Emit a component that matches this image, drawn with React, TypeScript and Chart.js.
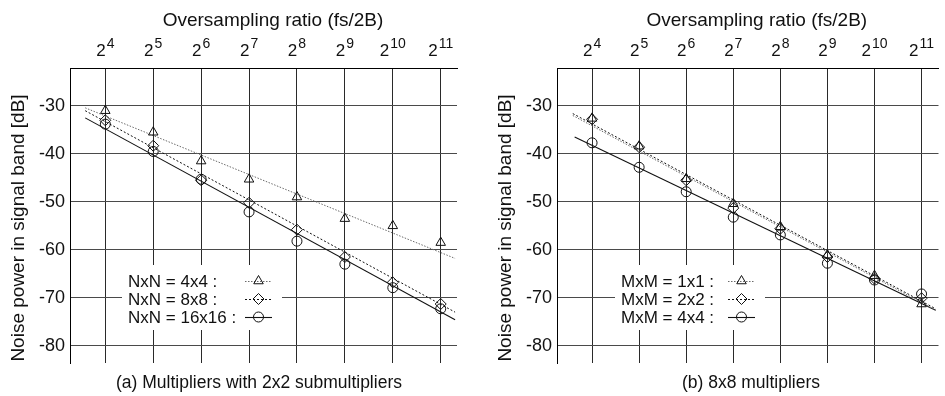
import React, { useEffect, useRef } from 'react';
import { Chart, registerables } from 'chart.js';
import { drawPoint } from 'chart.js/helpers';

Chart.register(...registerables);

// ---------- data ----------
const exponents = [4, 5, 6, 7, 8, 9, 10, 11];
const yTickValues = [-80, -70, -60, -50, -40, -30];

// (a) Multipliers with 2x2 submultipliers
const nxn4x4 = [-31.0, -35.5, -41.5, -45.3, -49.0, -53.5, -55.0, -58.5];
const nxn8x8 = [-33.0, -38.3, -45.5, -50.2, -55.8, -61.5, -66.8, -71.3];
const nxn16x16 = [-33.8, -39.5, -45.3, -52.1, -58.2, -63.0, -67.9, -72.3];
const fitXLeft = [3.58, 11.3];
const fitNxN4x4 = [-30.4, -61.8];
const fitNxN8x8 = [-31.0, -73.0];
const fitNxN16x16 = [-32.5, -74.6];

// (b) 8x8 multipliers
const mxm1x1 = [-32.6, -38.4, -45.2, -50.4, -55.2, -61.1, -65.4, -71.3];
const mxm2x2 = [-32.8, -38.6, -45.5, -51.3, -55.6, -61.5, -66.0, -70.1];
const mxm4x4 = [-37.7, -42.8, -47.9, -53.2, -56.9, -62.8, -66.3, -69.2];
const fitXRight = [3.59, 11.3];
const fitXRightSolid = [3.63, 11.3];
const fitMxM1x1 = [-32.0, -72.6];
const fitMxM2x2 = [-31.6, -72.3];
const fitMxM4x4 = [-36.5, -72.6];

const xTitle = 'Oversampling ratio (fs/2B)';
const yTitle = 'Noise power in signal band [dB]';
const captionA = '(a) Multipliers with 2x2 submultipliers';
const captionB = '(b) 8x8 multipliers';
const labelsA = ['NxN = 4x4 :', 'NxN = 8x8 :', 'NxN = 16x16 :'];
const labelsB = ['MxM = 1x1 :', 'MxM = 2x2 :', 'MxM = 4x4 :'];

const FONT = '"Liberation Sans", Arial, Helvetica, sans-serif';

type Series = {
  label: string;
  values: number[];
  fitX: number[];
  fitY: number[];
  marker: string;
  radius: number;
  color: string;
  dash: number[];
  width: number;
};

type Panel = {
  width: number;
  xMin: number;
  xMax: number;
  axisWidth: number;
  rightPad: number;
  caption: string;
  captionX: number;
  legendBox: [number, number, number, number];
  legendTextX: number;
  sampleX: [number, number];
  series: Series[];
};

const styles = [
  { marker: 'triangle', radius: 5.5, color: '#6a6a6a', dash: [1.5, 1.5], width: 1 },
  { marker: 'rectRot', radius: 5.5, color: '#111', dash: [2, 2], width: 1 },
  { marker: 'circle', radius: 5, color: '#111', dash: [], width: 1.1 },
];

const panelA: Panel = {
  width: 470,
  xMin: 3.263,
  xMax: 11.34,
  axisWidth: 70,
  rightPad: 13,
  caption: captionA,
  captionX: 259,
  legendBox: [122, 265, 160, 65],
  legendTextX: 128,
  sampleX: [245, 272],
  series: [
    { label: labelsA[0], values: nxn4x4, fitX: fitXLeft, fitY: fitNxN4x4, ...styles[0] },
    { label: labelsA[1], values: nxn8x8, fitX: fitXLeft, fitY: fitNxN8x8, ...styles[1] },
    { label: labelsA[2], values: nxn16x16, fitX: fitXLeft, fitY: fitNxN16x16, ...styles[2] },
  ],
};

const panelB: Panel = {
  width: 475,
  xMin: 3.255,
  xMax: 11.36,
  axisWidth: 87,
  rightPad: 0,
  caption: captionB,
  captionX: 281,
  legendBox: [145, 265, 150, 65],
  legendTextX: 151,
  sampleX: [258, 285],
  series: [
    { label: labelsB[0], values: mxm1x1, fitX: fitXRight, fitY: fitMxM1x1, ...styles[0] },
    { label: labelsB[1], values: mxm2x2, fitX: fitXRight, fitY: fitMxM2x2, ...styles[1] },
    { label: labelsB[2], values: mxm4x4, fitX: fitXRightSolid, fitY: fitMxM4x4, ...styles[2] },
  ],
};

function makeChart(canvas: HTMLCanvasElement, p: Panel) {
  const markerSets = p.series.map((s) => ({
    type: 'scatter' as const,
    data: exponents.map((x, i) => ({ x, y: s.values[i] })),
    showLine: false,
    pointStyle: s.marker,
    pointRadius: s.radius,
    pointBorderColor: '#111',
    pointBackgroundColor: 'rgba(0,0,0,0)',
    pointBorderWidth: 1,
  }));
  const fitSets = p.series.map((s) => ({
    type: 'line' as const,
    data: s.fitX.map((x, i) => ({ x, y: s.fitY[i] })),
    showLine: true,
    pointRadius: 0,
    borderColor: s.color,
    borderWidth: s.width,
    borderDash: s.dash,
    fill: false,
  }));

  const deco = {
    id: 'deco',
    afterDraw(chart: any) {
      const { ctx, chartArea } = chart;
      const xs = chart.scales.x;
      ctx.save();
      ctx.fillStyle = '#111';
      // top title
      ctx.font = `19px ${FONT}`;
      ctx.textAlign = 'center';
      ctx.textBaseline = 'alphabetic';
      ctx.fillText(xTitle, xs.getPixelForValue(7.5), 26);
      // top tick labels 2^n
      ctx.textAlign = 'left';
      exponents.forEach((e) => {
        const px = xs.getPixelForValue(e);
        ctx.font = `17px ${FONT}`;
        const wb = ctx.measureText('2').width;
        ctx.font = `14px ${FONT}`;
        const ws = ctx.measureText(String(e)).width;
        const start = px - (wb + ws + 1) / 2;
        ctx.font = `17px ${FONT}`;
        ctx.fillText('2', start, 56);
        ctx.font = `14px ${FONT}`;
        ctx.fillText(String(e), start + wb + 1, 48);
      });
      // y title
      ctx.save();
      ctx.translate(chartArea.left - 51, 228);
      ctx.rotate(-Math.PI / 2);
      ctx.font = `19px ${FONT}`;
      ctx.textAlign = 'center';
      ctx.textBaseline = 'middle';
      ctx.fillText(yTitle, 0, 0);
      ctx.restore();
      // caption
      ctx.font = `17.5px ${FONT}`;
      ctx.textAlign = 'center';
      ctx.textBaseline = 'alphabetic';
      ctx.fillText(p.caption, p.captionX, 388);
      // legend
      const [bx, by, bw, bh] = p.legendBox;
      ctx.fillStyle = '#fff';
      ctx.fillRect(bx, by, bw, bh);
      const rows = [281, 299, 317];
      p.series.forEach((s, i) => {
        const y = rows[i];
        ctx.fillStyle = '#111';
        ctx.font = `17px ${FONT}`;
        ctx.textAlign = 'left';
        ctx.textBaseline = 'middle';
        ctx.fillText(s.label, p.legendTextX, y + 1);
        ctx.beginPath();
        ctx.strokeStyle = s.color;
        ctx.lineWidth = s.width;
        ctx.setLineDash(s.dash);
        ctx.moveTo(p.sampleX[0], y + 0.5);
        ctx.lineTo(p.sampleX[1], y + 0.5);
        ctx.stroke();
        ctx.setLineDash([]);
        ctx.strokeStyle = '#111';
        ctx.fillStyle = 'rgba(0,0,0,0)';
        ctx.lineWidth = 1;
        drawPoint(ctx, { pointStyle: s.marker, radius: s.radius, rotation: 0, borderWidth: 1 } as any,
          (p.sampleX[0] + p.sampleX[1]) / 2, y);
      });
      ctx.restore();
    },
  };

  return new Chart(canvas, {
    type: 'scatter',
    data: { datasets: [...markerSets, ...fitSets] as any },
    options: {
      responsive: false,
      animation: false,
      events: [],
      layout: { padding: { top: 0, right: p.rightPad, bottom: 33, left: 0 } },
      plugins: { legend: { display: false }, tooltip: { enabled: false } },
      scales: {
        x: {
          type: 'linear',
          position: 'top',
          min: p.xMin,
          max: p.xMax,
          afterBuildTicks: (s: any) => {
            s.ticks = exponents.map((v) => ({ value: v }));
          },
          afterFit: (s: any) => {
            s.height = 68;
          },
          ticks: { display: false },
          grid: { color: '#2a2a2a', lineWidth: 1, drawTicks: false },
          border: { display: true, color: '#000', width: 1 },
        },
        y: {
          type: 'linear',
          min: -83.6,
          max: -22.1,
          afterBuildTicks: (s: any) => {
            s.ticks = yTickValues.map((v) => ({ value: v }));
          },
          afterFit: (s: any) => {
            s.width = p.axisWidth;
          },
          ticks: { color: '#111', font: { family: FONT, size: 18 }, padding: 5 },
          grid: { color: '#4a4a4a', lineWidth: 1, drawTicks: false },
          border: { display: true, color: '#000', width: 1 },
        },
      },
    } as any,
    plugins: [deco],
  });
}

export default function App() {
  const leftRef = useRef<HTMLCanvasElement>(null);
  const rightRef = useRef<HTMLCanvasElement>(null);

  useEffect(() => {
    document.body.style.margin = '0';
    const a = makeChart(leftRef.current!, panelA);
    const b = makeChart(rightRef.current!, panelB);
    return () => {
      a.destroy();
      b.destroy();
    };
  }, []);

  return (
    <div style={{ position: 'fixed', left: 0, top: 0, width: 945, height: 396, display: 'flex', background: '#fff' }}>
      <canvas ref={leftRef} width={panelA.width} height={396} style={{ width: panelA.width, height: 396, display: 'block' }} />
      <canvas ref={rightRef} width={panelB.width} height={396} style={{ width: panelB.width, height: 396, display: 'block' }} />
    </div>
  );
}
